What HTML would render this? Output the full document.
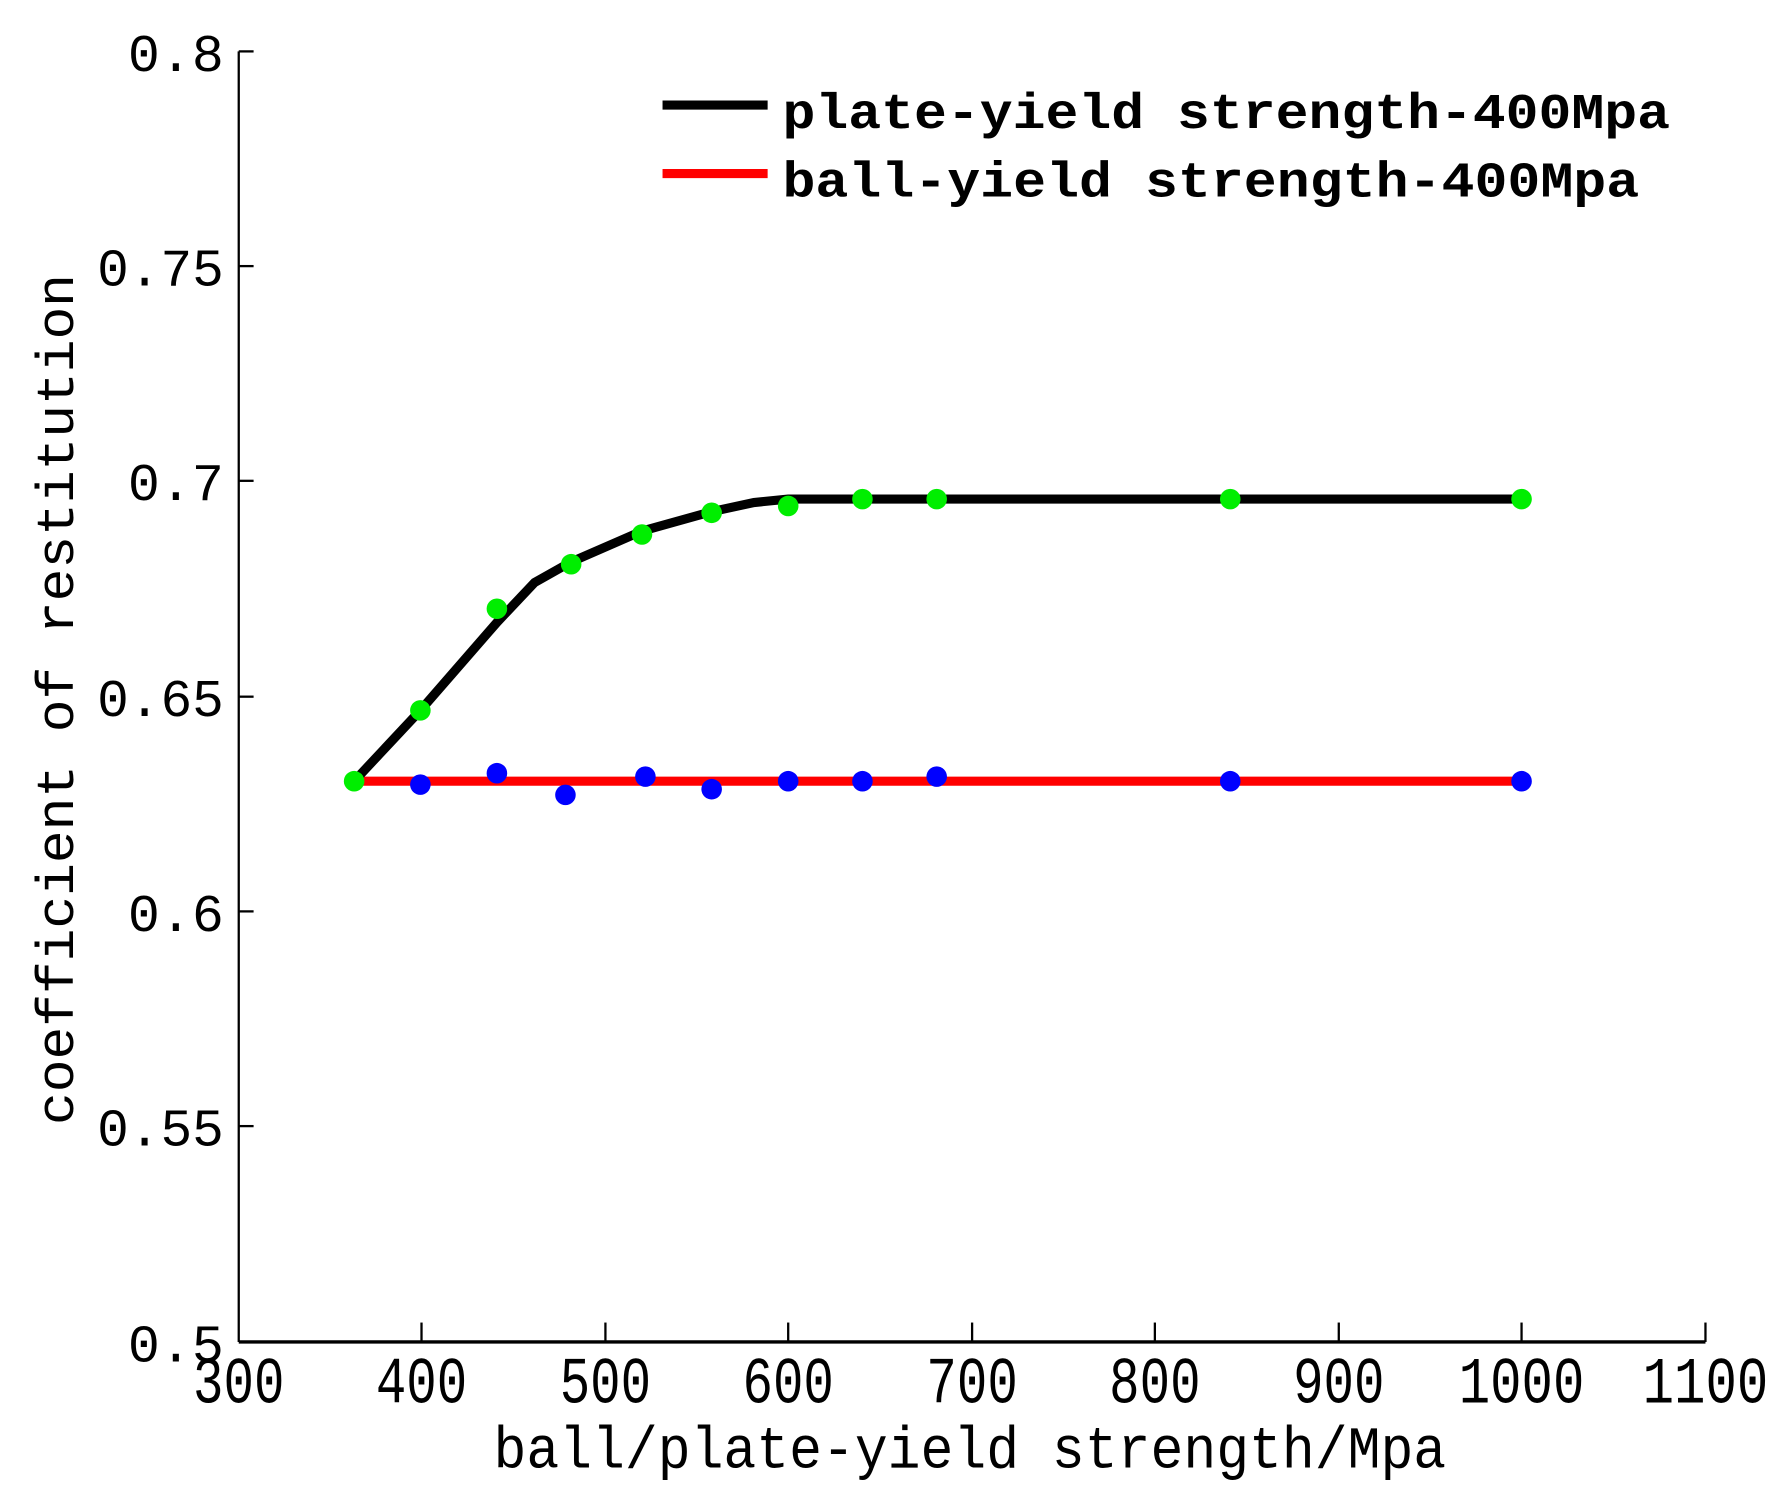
<!DOCTYPE html>
<html><head><meta charset="utf-8"><style>html,body{margin:0;padding:0;background:#fff;}svg{display:block}</style></head>
<body>
<svg width="1782" height="1495" viewBox="0 0 1560 1309" preserveAspectRatio="none" xmlns="http://www.w3.org/2000/svg" font-family="Liberation Mono, monospace">
<rect width="1560" height="1309" fill="#fff"/>
<line x1="209" y1="45" x2="209" y2="1175" stroke="#000" stroke-width="2"/>
<line x1="209" y1="1175" x2="1493" y2="1175" stroke="#000" stroke-width="3"/>
<g stroke="#000" stroke-width="2">
<line x1="209" y1="45" x2="222" y2="45"/><line x1="209" y1="233" x2="222" y2="233"/><line x1="209" y1="421" x2="222" y2="421"/><line x1="209" y1="610" x2="222" y2="610"/><line x1="209" y1="798" x2="222" y2="798"/><line x1="209" y1="986" x2="222" y2="986"/>
<line x1="369" y1="1175" x2="369" y2="1158"/><line x1="530" y1="1175" x2="530" y2="1158"/><line x1="690" y1="1175" x2="690" y2="1158"/><line x1="851" y1="1175" x2="851" y2="1158"/><line x1="1011" y1="1175" x2="1011" y2="1158"/><line x1="1172" y1="1175" x2="1172" y2="1158"/><line x1="1332" y1="1175" x2="1332" y2="1158"/><line x1="1493" y1="1175" x2="1493" y2="1158"/>
</g>
<g font-size="46" text-anchor="end">
<text x="196" y="62" textLength="84" lengthAdjust="spacingAndGlyphs">0.8</text>
<text x="196" y="250" textLength="111" lengthAdjust="spacingAndGlyphs">0.75</text>
<text x="196" y="438" textLength="84" lengthAdjust="spacingAndGlyphs">0.7</text>
<text x="196" y="627" textLength="111" lengthAdjust="spacingAndGlyphs">0.65</text>
<text x="196" y="815" textLength="84" lengthAdjust="spacingAndGlyphs">0.6</text>
<text x="196" y="1003" textLength="111" lengthAdjust="spacingAndGlyphs">0.55</text>
<text x="196" y="1192" textLength="84" lengthAdjust="spacingAndGlyphs">0.5</text>
</g>
<g font-size="58" text-anchor="middle">
<text x="209" y="1228" textLength="80" lengthAdjust="spacingAndGlyphs">300</text>
<text x="369" y="1228" textLength="80" lengthAdjust="spacingAndGlyphs">400</text>
<text x="530" y="1228" textLength="80" lengthAdjust="spacingAndGlyphs">500</text>
<text x="690" y="1228" textLength="80" lengthAdjust="spacingAndGlyphs">600</text>
<text x="851" y="1228" textLength="80" lengthAdjust="spacingAndGlyphs">700</text>
<text x="1011" y="1228" textLength="80" lengthAdjust="spacingAndGlyphs">800</text>
<text x="1172" y="1228" textLength="80" lengthAdjust="spacingAndGlyphs">900</text>
<text x="1332" y="1228" textLength="110" lengthAdjust="spacingAndGlyphs">1000</text>
<text x="1493" y="1228" textLength="110" lengthAdjust="spacingAndGlyphs">1100</text>
</g>
<text x="432" y="1285" font-size="52" textLength="834" lengthAdjust="spacingAndGlyphs">ball/plate-yield strength/Mpa</text>
<text transform="translate(64,985) rotate(-90)" x="0" y="0" font-size="46" textLength="745" lengthAdjust="spacingAndGlyphs">coefficient of restitution</text>
<line x1="580" y1="92" x2="672" y2="92" stroke="#000" stroke-width="8"/>
<text x="685" y="112" font-size="44" font-weight="bold" textLength="777" lengthAdjust="spacingAndGlyphs">plate-yield strength-400Mpa</text>
<line x1="580" y1="152" x2="672" y2="152" stroke="#f00" stroke-width="8"/>
<text x="685" y="172" font-size="44" font-weight="bold" textLength="750" lengthAdjust="spacingAndGlyphs">ball-yield strength-400Mpa</text>
<polyline points="310,684 1332,684" stroke="#f00" stroke-width="8" fill="none"/>
<polyline points="310,684 368,622 435,545 468,510 500,492 562,465 623,448 660,440 690,437 1332,437" stroke="#000" stroke-width="8" fill="none"/>
<g fill="#0000ff">
<circle cx="368" cy="687" r="9"/><circle cx="435" cy="677" r="9"/><circle cx="495" cy="696" r="9"/><circle cx="565" cy="680" r="9"/><circle cx="623" cy="691" r="9"/><circle cx="690" cy="684" r="9"/><circle cx="755" cy="684" r="9"/><circle cx="820" cy="680" r="9"/><circle cx="1077" cy="684" r="9"/><circle cx="1332" cy="684" r="9"/>
</g>
<g fill="#00ee00">
<circle cx="310" cy="684" r="9"/><circle cx="368" cy="622" r="9"/><circle cx="435" cy="533" r="9"/><circle cx="500" cy="494" r="9"/><circle cx="562" cy="468" r="9"/><circle cx="623" cy="449" r="9"/><circle cx="690" cy="443" r="9"/><circle cx="755" cy="437" r="9"/><circle cx="820" cy="437" r="9"/><circle cx="1077" cy="437" r="9"/><circle cx="1332" cy="437" r="9"/>
</g>
</svg>
</body></html>
